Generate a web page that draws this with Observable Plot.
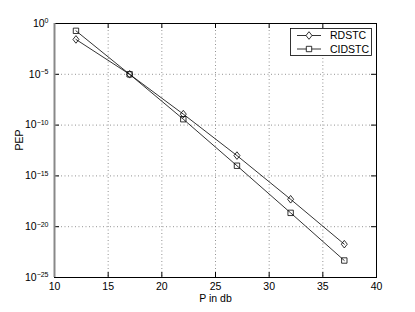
<!DOCTYPE html>
<html><head>
<meta charset="utf-8">
<script src="https://cdn.jsdelivr.net/npm/d3@7"></script>
<script src="https://cdn.jsdelivr.net/npm/@observablehq/plot@0.6"></script>
<style>
body{margin:0;background:#fff}
svg{font-family:"Liberation Sans",Arial,Helvetica,sans-serif}
</style>
</head><body><div id="chart"></div>
<script>
const snrDb = [12, 17, 22, 27, 32, 37];
const pepRDSTC = [2.7e-2, 1.0e-5, 1.2e-9, 1.0e-13, 5.0e-18, 1.9e-22];
const pepCIDSTC = [1.9e-1, 1.0e-5, 3.8e-10, 1.0e-14, 2.3e-19, 4.7e-24];
const seriesNames = ["RDSTC", "CIDSTC"];
const xTicks = [10, 15, 20, 25, 30, 35, 40];
const yTickExponents = [0, -5, -10, -15, -20, -25];
const xLabel = "P in db";
const yLabel = "PEP";

const W = 415, H = 312, mL = 54, mR = 39, mT = 23, mB = 35;
const innerW = W - mL - mR, innerH = H - mT - mB;
const yTicks = yTickExponents.map(e => Math.pow(10, e));
const rows = [];
snrDb.forEach((x, i) => {
  rows.push({x, y: pepRDSTC[i], s: seriesNames[0]});
  rows.push({x, y: pepCIDSTC[i], s: seriesNames[1]});
});
const diamond = {draw(ctx) {const h = 3.8, w = 3; ctx.moveTo(0, -h); ctx.lineTo(w, 0); ctx.lineTo(0, h); ctx.lineTo(-w, 0); ctx.closePath();}};
const square = {draw(ctx) {const s = 2.7; ctx.rect(-s, -s, 2 * s, 2 * s);}};
const symbols = [diamond, square];
const tickLen = 5;
const gridStyle = {stroke: "#777", strokeOpacity: 1, strokeWidth: 0.8, strokeDasharray: "1,2.5"};

const marks = [
  Plot.gridX(xTicks.slice(1, -1), gridStyle),
  Plot.gridY(yTicks.slice(1, -1), gridStyle),
  Plot.tickX(xTicks, {x: d => d, insetTop: innerH - tickLen, stroke: "#000"}),
  Plot.tickX(xTicks, {x: d => d, insetBottom: innerH - tickLen, stroke: "#000"}),
  Plot.tickY(yTicks, {y: d => d, insetRight: innerW - tickLen, stroke: "#000"}),
  Plot.tickY(yTicks, {y: d => d, insetLeft: innerW - tickLen, stroke: "#000"}),
  Plot.frame({stroke: "#000", strokeWidth: 1}),
  Plot.ruleX([xTicks[0]], {stroke: "#888", strokeWidth: 2}),
  Plot.axisX(xTicks, {tickSize: 0, tickPadding: 5, fontSize: 10.5, label: null, fill: "#000"}),
  Plot.axisY(yTicks, {tickSize: 0, tickPadding: 6, fontSize: 10.5, label: null, fill: "#000", tickFormat: d => String(Math.round(Math.log10(d)))}),
  Plot.text([xLabel], {frameAnchor: "bottom", dy: 21, lineAnchor: "middle", fontSize: 10.5, fill: "#000"}),
  Plot.text([yLabel], {frameAnchor: "left", rotate: -90, dx: -35, fontSize: 10.5, fill: "#000"})
];
seriesNames.forEach((name, k) => {
  const data = rows.filter(r => r.s === name);
  marks.push(Plot.line(data, {x: "x", y: "y", stroke: "#000", strokeWidth: 0.8}));
  marks.push(Plot.dot(data, {x: "x", y: "y", symbol: symbols[k], stroke: "#000", strokeWidth: 0.8, fill: "none"}));
});

const chart = Plot.plot({
  width: W, height: H,
  marginLeft: mL, marginRight: mR, marginTop: mT, marginBottom: mB,
  style: {background: "#fff", color: "#000", fontFamily: '"Liberation Sans",Arial,sans-serif'},
  x: {domain: [xTicks[0], xTicks[xTicks.length - 1]], axis: null},
  y: {type: "log", domain: [yTicks[yTicks.length - 1], yTicks[0]], axis: null},
  marks
});

// superscript exponents on y tick labels
d3.select(chart).selectAll('g[aria-label="y-axis tick label"] text').each(function () {
  const t = d3.select(this);
  const e = t.text();
  t.text("10");
  t.append("tspan").attr("dy", "-0.5em").attr("font-size", "7px").text(e.replace("-", "\u2212"));
});

// legend
const legendItems = seriesNames.map((n, k) => ({name: n, sym: symbols[k]}));
const lg = d3.select(chart).append("g").attr("font-size", 10.5).attr("text-anchor", "start");
lg.append("rect").attr("x", 290.5).attr("y", 28.5).attr("width", 81).attr("height", 27)
  .attr("fill", "#fff").attr("stroke", "#000").attr("stroke-width", 0.8);
legendItems.forEach((it, i) => {
  const cy = 35.5 + i * 13.5;
  lg.append("line").attr("x1", 297).attr("x2", 321).attr("y1", cy).attr("y2", cy).attr("stroke", "#000").attr("stroke-width", 0.8);
  lg.append("path").attr("d", d3.symbol(it.sym)()).attr("transform", `translate(309,${cy})`)
    .attr("fill", "#fff").attr("stroke", "#000").attr("stroke-width", 0.8);
  lg.append("text").attr("x", 330).attr("y", cy).attr("dy", "0.35em").attr("text-anchor", "start").attr("fill", "#000").text(it.name);
});

document.getElementById("chart").appendChild(chart);
</script>
</body></html>
